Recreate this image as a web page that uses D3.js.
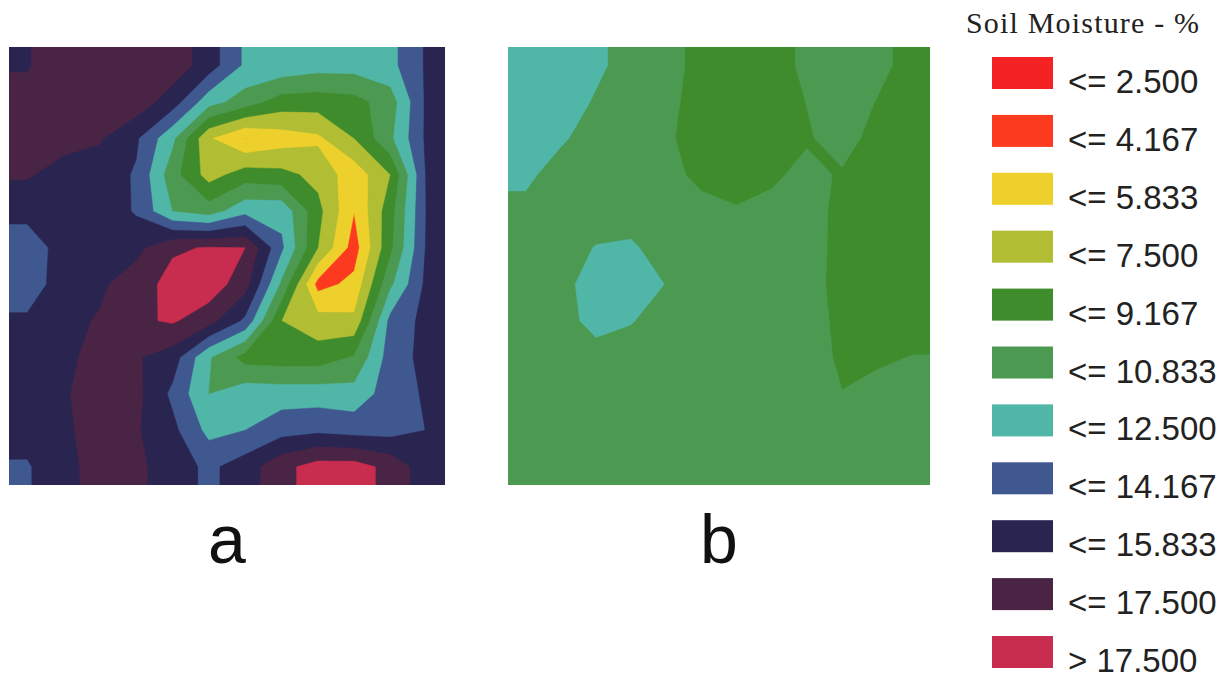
<!DOCTYPE html>
<html>
<head>
<meta charset="utf-8">
<script src="https://cdn.jsdelivr.net/npm/d3@7"></script>
<style>
  body { margin: 0; background: #fff; }
</style>
</head>
<body>
<script>
// class breaks (upper bounds) and their legend labels
const breaks = [2.5, 4.167, 5.833, 7.5, 9.167, 10.833, 12.5, 14.167, 15.833, 17.5];
const legendLabels = ["<= 2.500", "<= 4.167", "<= 5.833", "<= 7.500", "<= 9.167", "<= 10.833",
                      "<= 12.500", "<= 14.167", "<= 15.833", "<= 17.500", "> 17.500"];
const panelLabels = ["a", "b"];

// soil moisture (%) sampled on a 12 x 12 grid, row by row from the top
const moistureA = [
  [15.7, 16.8, 17.0, 16.9, 16.8, 15.0, 12.2, 12.0, 11.5, 11.5, 12.0, 14.4],
  [16.4, 17.0, 17.0, 16.8, 15.0, 11.5, 10.0, 8.4, 8.3, 8.6, 10.0, 14.5],
  [16.3, 16.4, 16.0, 14.4, 11.2, 6.0, 4.12, 5.0, 5.5, 7.5, 10.5, 14.5],
  [16.0, 15.2, 15.0, 14.0, 9.8, 6.8, 8.3, 8.0, 7.0, 4.8, 7.5, 14.4],
  [14.8, 15.3, 15.2, 14.0, 10.8, 10.0, 12.0, 12.0, 8.0, 4.2, 8.5, 14.3],
  [13.0, 15.0, 15.5, 15.3, 17.3, 17.6, 17.5, 12.8, 7.5, 3.4, 8.8, 14.4],
  [13.0, 15.2, 15.5, 16.8, 18.0, 18.5, 16.5, 10.5, 3.6, 4.6, 10.5, 14.6],
  [14.5, 15.3, 16.0, 17.2, 17.7, 16.5, 13.8, 7.5, 6.5, 6.2, 13.0, 14.7],
  [15.0, 15.5, 16.3, 16.0, 15.0, 11.0, 8.5, 8.3, 8.3, 9.3, 13.3, 14.7],
  [15.0, 15.6, 16.8, 16.3, 13.8, 10.8, 11.8, 11.7, 11.7, 11.5, 13.3, 14.4],
  [14.8, 15.5, 16.6, 16.0, 14.6, 12.0, 12.5, 13.5, 13.8, 13.5, 13.5, 14.2],
  [14.0, 15.3, 16.5, 16.2, 15.0, 13.8, 15.0, 17.0, 18.2, 18.2, 17.0, 14.8]
];
const moistureB = [
  [11.8, 11.8, 11.1, 10.3, 9.8, 8.6, 8.4, 8.5, 9.5, 9.9, 9.6, 8.6],
  [11.7, 11.5, 10.7, 10.2, 9.6, 8.5, 8.3, 8.4, 9.2, 10.0, 9.1, 8.5],
  [11.6, 11.0, 10.3, 10.1, 9.4, 8.5, 8.3, 8.4, 9.0, 9.8, 8.6, 8.4],
  [11.1, 10.3, 10.1, 10.0, 9.5, 8.9, 8.5, 8.9, 9.6, 9.0, 8.5, 8.0],
  [10.5, 10.2, 10.1, 10.3, 9.9, 9.5, 9.3, 9.6, 9.7, 8.8, 8.5, 8.4],
  [10.3, 10.2, 10.9, 11.0, 10.3, 10.0, 9.9, 9.9, 9.8, 8.7, 8.5, 8.5],
  [10.2, 10.3, 11.6, 11.4, 10.8, 10.1, 10.0, 10.0, 9.7, 8.7, 8.5, 8.6],
  [10.1, 10.4, 11.2, 10.9, 10.3, 10.0, 10.0, 10.0, 9.8, 8.8, 8.6, 8.7],
  [10.1, 10.2, 10.4, 10.3, 10.1, 10.0, 10.0, 10.0, 9.9, 8.9, 9.0, 9.2],
  [10.0, 10.1, 10.1, 10.1, 10.0, 10.0, 10.0, 10.0, 10.0, 9.2, 9.5, 9.6],
  [10.0, 10.0, 10.0, 10.0, 10.0, 10.0, 10.0, 10.0, 10.0, 9.8, 9.9, 9.9],
  [10.0, 10.0, 10.0, 10.0, 10.0, 10.0, 10.0, 10.0, 10.0, 10.0, 10.0, 10.0]
];

const classColors = ["#f42222", "#fb3a1f", "#eed02c", "#b1bd32", "#3f8c2c", "#4c9a52",
                     "#50b6a7", "#3f5890", "#2a2450", "#4a2444", "#c82c4e"];

// repeat the edge rows/columns once so the contours run straight to the frame
function padGrid(grid){
    const ny = grid.length, nx = grid[0].length;
    const out = [];
    for (let r = -1; r <= ny; r++) {
        const row = grid[Math.max(0, Math.min(ny - 1, r))];
        for (let c = -1; c <= nx; c++) out.push(row[Math.max(0, Math.min(nx - 1, c))]);
    }
    return out;
}

function main(){
    const svg = d3.select("body").append("svg")
        .attr("width", 1230)
        .attr("height", 683);

    const panels = [
        {grid: moistureA, x0: 9, x1: 445, y0: 47, y1: 485},
        {grid: moistureB, x0: 508, x1: 930, y0: 47, y1: 485}
    ];

    // lowest band first, every later band paints values >= its break
    const levels = [-1].concat(breaks);
    const defs = svg.append("defs");

    panels.forEach((p, k) => {
        const ny = p.grid.length, nx = p.grid[0].length;
        const xScale = d3.scaleLinear().domain([1, nx + 1]).range([p.x0, p.x1]);
        const yScale = d3.scaleLinear().domain([1, ny + 1]).range([p.y0, p.y1]);
        const proj = d3.geoTransform({
            point(x, y){ this.stream.point(xScale(x), yScale(y)); }
        });
        const path = d3.geoPath(proj);

        defs.append("clipPath").attr("id", "clip" + k)
            .append("rect")
            .attr("x", p.x0).attr("y", p.y0)
            .attr("width", p.x1 - p.x0).attr("height", p.y1 - p.y0);

        const bands = d3.contours()
            .size([nx + 2, ny + 2])
            .thresholds(levels)(padGrid(p.grid));

        svg.append("g")
            .attr("clip-path", `url(#clip${k})`)
            .selectAll("path")
            .data(bands)
            .join("path")
            .attr("d", path)
            .attr("fill", (d, i) => classColors[i])
            .attr("stroke", (d, i) => classColors[i])
            .attr("stroke-width", 0.5);

        svg.append("text")
            .attr("x", (p.x0 + p.x1) / 2)
            .attr("y", 563)
            .attr("text-anchor", "middle")
            .attr("font-family", "Liberation Sans, Arial, sans-serif")
            .attr("font-size", "68px")
            .attr("fill", "#111")
            .text(panelLabels[k]);
    });

    // legend
    svg.append("text")
        .attr("x", 966)
        .attr("y", 33)
        .attr("font-family", "Liberation Serif, Times New Roman, serif")
        .attr("font-size", "30px")
        .attr("textLength", 233)
        .attr("lengthAdjust", "spacing")
        .attr("fill", "#222")
        .text("Soil Moisture - %");

    const itemY = d3.scaleLinear().domain([0, legendLabels.length - 1]).range([57, 636]);
    const legend = svg.append("g")
        .selectAll("g")
        .data(legendLabels)
        .join("g")
        .attr("transform", (d, i) => `translate(992,${itemY(i)})`);

    legend.append("rect")
        .attr("width", 61)
        .attr("height", 32)
        .attr("fill", (d, i) => classColors[i]);

    legend.append("text")
        .attr("x", 76)
        .attr("y", 36)
        .attr("font-family", "Liberation Sans, Arial, sans-serif")
        .attr("font-size", "33px")
        .attr("fill", "#222")
        .text(d => d);
}
main();
</script>
</body>
</html>
